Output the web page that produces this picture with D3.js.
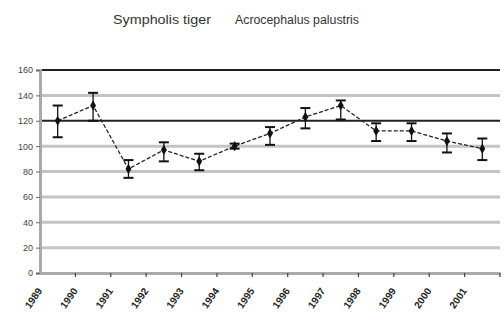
<!DOCTYPE html>
<html>
<head>
<meta charset="utf-8">
<script src="https://cdn.jsdelivr.net/npm/d3@7"></script>
<style>
  body { margin: 0; background: #fff; }
  svg { display: block; font-family: "Liberation Sans", Arial, sans-serif; }
</style>
</head>
<body>
<div id="chart"></div>
<script>
// values
const years = ["1989", "1990", "1991", "1992", "1993", "1994", "1995", "1996", "1997", "1998", "1999", "2000", "2001"];
const means = [120, 132, 82, 97, 88, 100, 110, 123, 132, 112, 112, 104, 98];
const upper = [132, 142, 89, 103, 94, 102, 115, 130, 136, 118, 118, 110, 106];
const lower = [107, 120, 75, 88, 81, 98, 101, 114, 121, 104, 104, 95, 89];
const yTicks = [0, 20, 40, 60, 80, 100, 120, 140, 160];
const darkLines = [160, 120];
const legendLabels = ["Sympholis tiger", "Acrocephalus palustris"];

const width = 504, height = 324;
const margin = { top: 70, right: 4, bottom: 51, left: 40 };

const svg = d3.select("#chart").append("svg")
  .attr("width", width)
  .attr("height", height);

const x = d3.scaleBand()
  .domain(years)
  .range([margin.left, width - margin.right]);

const y = d3.scaleLinear()
  .domain([0, 160])
  .range([height - margin.bottom, margin.top]);

// legend text at top
svg.append("text")
  .attr("x", 113).attr("y", 24)
  .attr("font-size", 12)
  .attr("textLength", 98)
  .attr("lengthAdjust", "spacingAndGlyphs")
  .attr("fill", "#333")
  .text(legendLabels[0]);
svg.append("text")
  .attr("x", 235).attr("y", 24)
  .attr("font-size", 12)
  .attr("textLength", 124)
  .attr("lengthAdjust", "spacingAndGlyphs")
  .attr("fill", "#333")
  .text(legendLabels[1]);

// grid lines
svg.append("g")
  .selectAll("line")
  .data(yTicks.filter(d => d > 0))
  .join("line")
  .attr("x1", margin.left)
  .attr("x2", width - margin.right)
  .attr("y1", d => y(d))
  .attr("y2", d => y(d))
  .attr("stroke", d => darkLines.includes(d) ? "#222" : "#c4c4c4")
  .attr("stroke-width", d => darkLines.includes(d) ? 2 : 3);

// y axis
const yAxis = svg.append("g")
  .attr("transform", "translate(" + margin.left + ",0)")
  .call(d3.axisLeft(y).tickValues(yTicks).tickSize(4).tickPadding(3));
yAxis.select(".domain").attr("stroke", "#aaa").attr("stroke-width", 3);
yAxis.selectAll(".tick line").attr("stroke", "#666");
yAxis.selectAll(".tick text").attr("font-size", 9).attr("fill", "#444");

// x axis
const xAxis = svg.append("g")
  .attr("transform", "translate(0," + y(0) + ")")
  .call(d3.axisBottom(x).tickSize(0));
xAxis.select(".domain").attr("stroke", "#aaa").attr("stroke-width", 3);
xAxis.selectAll(".tick text")
  .attr("y", 0)
  .attr("dy", 0)
  .attr("font-size", 10)
  .attr("font-weight", "bold")
  .attr("fill", "#222")
  .attr("text-anchor", "end")
  .attr("transform", "translate(-15,18) rotate(-55)");

// small ticks at band boundaries
svg.append("g")
  .selectAll("line")
  .data(years.slice(1).concat(["end"]))
  .join("line")
  .attr("x1", (d, i) => x.range()[0] + x.step() * (i + 1))
  .attr("x2", (d, i) => x.range()[0] + x.step() * (i + 1))
  .attr("y1", y(0))
  .attr("y2", y(0) + 4)
  .attr("stroke", "#444")
  .attr("stroke-width", 1.2);

const cx = d => x(d) + x.bandwidth() / 2;

// error bars
const err = svg.append("g").attr("stroke", "#111").attr("stroke-width", 1.3);
years.forEach((yr, i) => {
  err.append("line")
    .attr("x1", cx(yr)).attr("x2", cx(yr))
    .attr("y1", y(upper[i])).attr("y2", y(lower[i]));
  [upper[i], lower[i]].forEach(v => {
    err.append("line")
      .attr("x1", cx(yr) - 5).attr("x2", cx(yr) + 5)
      .attr("y1", y(v)).attr("y2", y(v))
      .attr("stroke-width", 2);
  });
});

// series line
svg.append("path")
  .datum(means)
  .attr("fill", "none")
  .attr("stroke", "#222")
  .attr("stroke-width", 1.3)
  .attr("stroke-dasharray", "4,2")
  .attr("d", d3.line()
    .x((d, i) => cx(years[i]))
    .y(d => y(d)));

// markers
svg.append("g")
  .selectAll("path")
  .data(means)
  .join("path")
  .attr("transform", (d, i) => "translate(" + cx(years[i]) + "," + y(d) + ")")
  .attr("d", d3.symbol(d3.symbolDiamond, 30))
  .attr("fill", "#111");
</script>
</body>
</html>
